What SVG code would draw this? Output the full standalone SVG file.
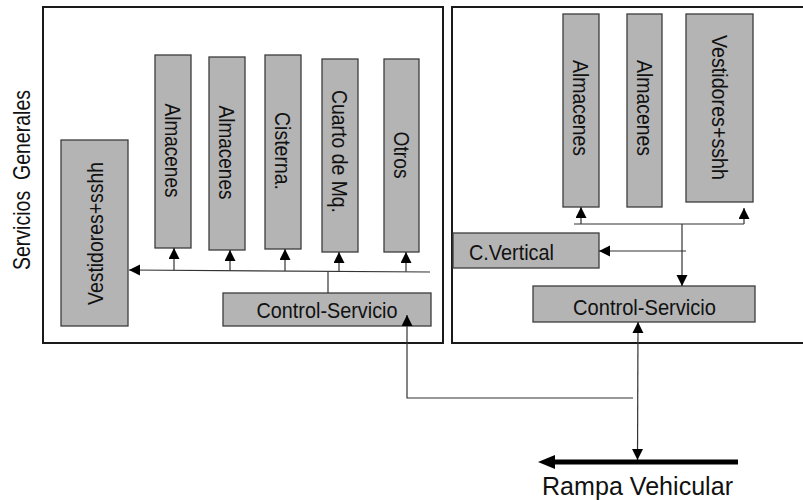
<svg xmlns="http://www.w3.org/2000/svg" width="803" height="500" viewBox="0 0 803 500">
<defs>
<style>
.panel{fill:none;stroke:#1a1a1a;stroke-width:2}
.node{fill:#b4b4b4;stroke:#3c3c3c;stroke-width:1.3}
.t{font-family:"Liberation Sans",Arial,sans-serif;font-size:22.5px;fill:#111}
.c{stroke:#333;stroke-width:1.2;fill:none}
.thick{stroke:#000;stroke-width:5;fill:none}
</style>
<marker id="ah" markerUnits="userSpaceOnUse" markerWidth="12" markerHeight="12" refX="11" refY="5.5" orient="auto-start-reverse">
<path d="M0,0 L11,5.5 L0,11 Z" fill="#000"/>
</marker>
<marker id="ahBig" markerUnits="userSpaceOnUse" markerWidth="18" markerHeight="15" refX="0" refY="7" orient="auto">
<path d="M0,0 L17,7 L0,14 Z" fill="#000"/>
</marker>
</defs>
<rect width="803" height="500" fill="#fff"/>

<text class="t" transform="translate(22,180) rotate(-90)" x="-90" y="8" textLength="180" lengthAdjust="spacingAndGlyphs" style="white-space:pre;font-size:24px">Servicios  Generales</text>

<g id="panel-left"><rect class="panel" x="43" y="7" width="400" height="336"/></g>
<g id="panel-right"><path class="panel" d="M805,7 H452 V343 H805"/></g>

<g id="almacenes-l1"><rect class="node" x="155" y="55" width="36" height="193"/><text class="t" transform="translate(173,150.5) rotate(90)" x="-47" y="8" textLength="94" lengthAdjust="spacingAndGlyphs">Almacenes</text></g>
<g id="almacenes-l2"><rect class="node" x="209" y="57" width="36" height="193"/><text class="t" transform="translate(227,152.5) rotate(90)" x="-47" y="8" textLength="94" lengthAdjust="spacingAndGlyphs">Almacenes</text></g>
<g id="cisterna"><rect class="node" x="265" y="55" width="36" height="194"/><text class="t" transform="translate(283,151) rotate(90)" x="-39" y="8" textLength="78" lengthAdjust="spacingAndGlyphs">Cisterna.</text></g>
<g id="cuarto-mq"><rect class="node" x="322" y="59" width="36" height="193"/><text class="t" transform="translate(340,151.5) rotate(90)" x="-61.5" y="8" textLength="123" lengthAdjust="spacingAndGlyphs">Cuarto de Mq.</text></g>
<g id="otros"><rect class="node" x="384" y="59" width="35" height="193"/><text class="t" transform="translate(401.5,155) rotate(90)" x="-23.5" y="8" textLength="47" lengthAdjust="spacingAndGlyphs">Otros</text></g>
<g id="vestidores-l"><rect class="node" x="61" y="140" width="67" height="186"/><text class="t" transform="translate(94.5,233.5) rotate(-90)" x="-71.5" y="8" textLength="143" lengthAdjust="spacingAndGlyphs">Vestidores+sshh</text></g>
<g id="control-l"><rect class="node" x="223" y="293" width="208" height="33"/><text class="t" x="256.5" y="317.5" textLength="141" lengthAdjust="spacingAndGlyphs">Control-Servicio</text></g>

<g id="almacenes-r1"><rect class="node" x="563" y="14" width="36" height="193"/><text class="t" transform="translate(581,108) rotate(90)" x="-48" y="8" textLength="96" lengthAdjust="spacingAndGlyphs">Almacenes</text></g>
<g id="almacenes-r2"><rect class="node" x="627" y="14" width="35" height="193"/><text class="t" transform="translate(644.5,108) rotate(90)" x="-48" y="8" textLength="96" lengthAdjust="spacingAndGlyphs">Almacenes</text></g>
<g id="vestidores-r"><rect class="node" x="686" y="14" width="67" height="188"/><text class="t" transform="translate(719.5,107.5) rotate(90)" x="-72.5" y="8" textLength="145" lengthAdjust="spacingAndGlyphs">Vestidores+sshh</text></g>
<g id="c-vertical"><rect class="node" x="453" y="233" width="146" height="35"/><text class="t" x="469" y="259.5" textLength="85" lengthAdjust="spacingAndGlyphs">C.Vertical</text></g>
<g id="control-r"><rect class="node" x="533" y="286" width="222" height="36"/><text class="t" x="573" y="314.5" textLength="143" lengthAdjust="spacingAndGlyphs">Control-Servicio</text></g>

<g id="rampa"><text class="t" x="542" y="495" textLength="191" lengthAdjust="spacingAndGlyphs" style="font-size:25px">Rampa Vehicular</text></g>

<g id="connectors">
<line class="c" x1="430" y1="272" x2="129" y2="270" marker-end="url(#ah)"/>
<line class="c" x1="174" y1="270.3" x2="174" y2="248" marker-end="url(#ah)"/>
<line class="c" x1="230" y1="270.7" x2="230" y2="250" marker-end="url(#ah)"/>
<line class="c" x1="285" y1="271" x2="285" y2="249" marker-end="url(#ah)"/>
<line class="c" x1="339" y1="271.4" x2="339" y2="252" marker-end="url(#ah)"/>
<line class="c" x1="406" y1="271.8" x2="406" y2="252" marker-end="url(#ah)"/>
<line class="c" x1="328" y1="271.2" x2="328" y2="293"/>
<polyline class="c" points="633,398 407,398 407,315" marker-end="url(#ah)"/>

<line class="c" x1="574" y1="224" x2="744" y2="224"/>
<line class="c" x1="581" y1="224" x2="581" y2="207" marker-end="url(#ah)"/>
<line class="c" x1="744" y1="224" x2="744" y2="208" marker-end="url(#ah)"/>
<line class="c" x1="682" y1="224" x2="682" y2="286" marker-end="url(#ah)"/>
<line class="c" x1="686" y1="251" x2="599" y2="251" marker-end="url(#ah)"/>
<line class="c" x1="638" y1="322" x2="637.5" y2="460" marker-start="url(#ah)" marker-end="url(#ah)"/>
<line class="thick" x1="738" y1="462" x2="555" y2="462" marker-end="url(#ahBig)"/>
</g>
</svg>
